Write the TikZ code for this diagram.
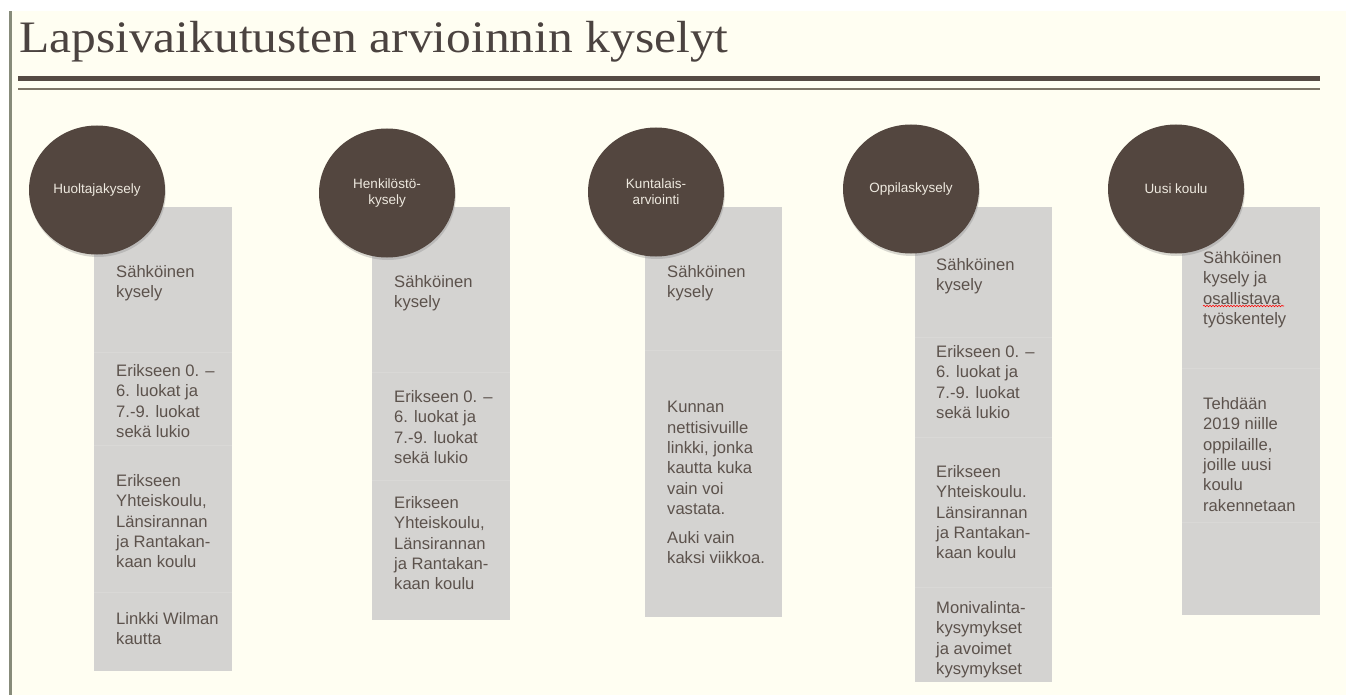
\documentclass[tikz,border=0pt]{standalone}
\usepackage{fontspec}
\setmainfont{Liberation Sans}
\newfontfamily\titlefont[FakeStretch=1.1]{Liberation Serif}
\usetikzlibrary{shapes.geometric,shadows,decorations.pathmorphing}
\definecolor{cream}{HTML}{FFFEF2}
\definecolor{vline}{HTML}{878B7A}
\definecolor{titlec}{HTML}{4B4340}
\definecolor{rulethick}{HTML}{554A43}
\definecolor{rulethin}{HTML}{7D7566}
\definecolor{bubblec}{HTML}{53463F}
\definecolor{bubbletext}{HTML}{EEE9DF}
\definecolor{panelc}{HTML}{D4D3D1}
\definecolor{panelsep}{HTML}{D9D8D6}
\definecolor{bodytext}{HTML}{5C524C}
\begin{document}
\begin{tikzpicture}[x=1pt,y=-1pt,
  panel/.style={fill=panelc, draw=none, inner sep=0pt, anchor=north west},
  bubble/.style={ellipse, fill=bubblec, minimum width=136pt, minimum height=129pt, inner sep=0pt,
    text=bubbletext, align=center, font=\fontsize{13.5}{16}\selectfont,
    drop shadow={shadow xshift=0.8pt, shadow yshift=-2.5pt, opacity=0.3}},
  txt/.style={anchor=north west, inner sep=0pt, align=left, text=bodytext,
    font=\fontsize{16.6}{20.4}\selectfont},
  sepline/.style={draw=panelsep, line width=1pt}]
\useasboundingbox (0,0) rectangle (1346,695);
\fill[white] (0,0) rectangle (1346,695);
\fill[cream] (12,11) rectangle (1346,695);
\fill[vline] (9,11) rectangle (12,695);
% title
\node[anchor=base west, inner sep=0pt, text=titlec, font=\titlefont\fontsize{45}{50}\selectfont] (title) at (19,53) {Lapsivaikutusten arvioinnin kyselyt};
\coordinate (ra) at (18,78.7);
\coordinate (rb) at (1320,78.7);
\coordinate (rc) at (18,88.8);
\coordinate (rd) at (1320,88.8);
\draw[line width=4.5pt, rulethick] (ra) -- (rb);
\draw[line width=2.4pt, rulethin] (rc) -- (rd);
% panels
\node[panel, minimum width=138pt, minimum height=464pt] (r1) at (94,207) {};
\node[panel, minimum width=138pt, minimum height=413pt] (r2) at (372,207) {};
\node[panel, minimum width=137pt, minimum height=410pt] (r3) at (645,207) {};
\node[panel, minimum width=137pt, minimum height=475pt] (r4) at (915,207) {};
\node[panel, minimum width=138pt, minimum height=408pt] (r5) at (1182,207) {};
% separators
\foreach \r/\yy in {r1/352, r1/445, r1/592, r2/372, r2/480, r3/350, r4/337, r4/437, r4/587, r5/368, r5/522}{
  \draw[sepline] (\r.west |- 0,\yy) -- (\r.east |- 0,\yy);
}
% column 1 texts
\node[txt] (g11) at (116,265) {Sähköinen\\kysely};
\node[txt] (g12) at (116,364) {Erikseen 0. –\\6. luokat ja\\7.-9. luokat\\sekä lukio};
\node[txt] (g13) at (116,474) {Erikseen\\Yhteiskoulu,\\Länsirannan\\ja Rantakan-\\kaan koulu};
\node[txt] (g14) at (116,612) {Linkki Wilman\\kautta};
% column 2
\node[txt] (g21) at (394,275) {Sähköinen\\kysely};
\node[txt] (g22) at (394,390) {Erikseen 0. –\\6. luokat ja\\7.-9. luokat\\sekä lukio};
\node[txt] (g23) at (394,496) {Erikseen\\Yhteiskoulu,\\Länsirannan\\ja Rantakan-\\kaan koulu};
% column 3
\node[txt] (g31) at (667,265) {Sähköinen\\kysely};
\node[txt] (g32) at (667,401) {Kunnan\\nettisivuille\\linkki, jonka\\kautta kuka\\vain voi\\vastata.\\[8.5pt]Auki vain\\kaksi viikkoa.};
% column 4
\node[txt] (g41) at (936,258) {Sähköinen\\kysely};
\node[txt] (g42) at (936,345) {Erikseen 0. –\\6. luokat ja\\7.-9. luokat\\sekä lukio};
\node[txt] (g43) at (936,465) {Erikseen\\Yhteiskoulu.\\Länsirannan\\ja Rantakan-\\kaan koulu};
\node[txt] (g44) at (936,601) {Monivalinta-\\kysymykset\\ja avoimet\\kysymykset};
% column 5
\node[txt] (g51) at (1203,251) {Sähköinen\\kysely ja\\osallistava\\työskentely};
\node[txt] (g52) at (1203,397) {Tehdään\\2019 niille\\oppilaille,\\joille uusi\\koulu\\rakennetaan};
\coordinate (ua) at (1203,306);
\coordinate (ub) at (1284,306);
\draw[red, line width=0.6pt, decorate, decoration={snake, amplitude=0.7pt, segment length=3pt}] (ua) -- (ub);
% bubbles
\node[bubble] (c1) at (97,190) {\raisebox{-4pt}{Huoltajakysely}};
\node[bubble] (c2) at (387,193) {Henkilöstö-\\kysely};
\node[bubble] (c3) at (656,192) {Kuntalais-\\arviointi};
\node[bubble] (c4) at (911,189) {Oppilaskysely};
\node[bubble] (c5) at (1176,189) {Uusi koulu};
\end{tikzpicture}
\end{document}
